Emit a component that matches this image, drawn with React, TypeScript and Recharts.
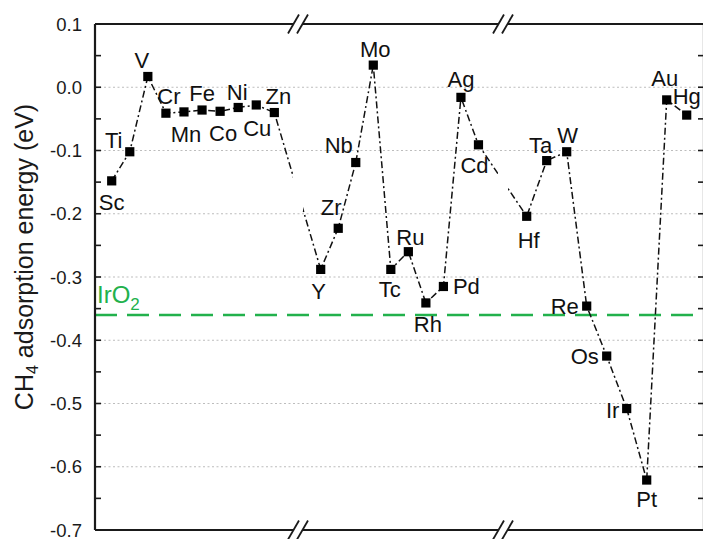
import React from 'react';
import { LineChart, Line, XAxis, YAxis, ReferenceLine, ReferenceArea, LabelList } from 'recharts';

// ---------------- data ----------------
const period4Elements = ['Sc', 'Ti', 'V', 'Cr', 'Mn', 'Fe', 'Co', 'Ni', 'Cu', 'Zn'];
const period4Energies = [-0.148, -0.102, 0.017, -0.041, -0.039, -0.036, -0.038, -0.032, -0.028, -0.040];

const period5Elements = ['Y', 'Zr', 'Nb', 'Mo', 'Tc', 'Ru', 'Rh', 'Pd', 'Ag', 'Cd'];
const period5Energies = [-0.288, -0.223, -0.119, 0.035, -0.288, -0.260, -0.341, -0.315, -0.016, -0.091];

const period6Elements = ['Hf', 'Ta', 'W', 'Re', 'Os', 'Ir', 'Pt', 'Au', 'Hg'];
const period6Energies = [-0.204, -0.116, -0.102, -0.346, -0.425, -0.508, -0.621, -0.020, -0.044];

const iro2Energy = -0.36;
const iro2Text = 'IrO';
const iro2Sub = '2';

const yTickValues = [0.1, 0.05, 0, -0.05, -0.1, -0.15, -0.2, -0.25, -0.3, -0.35, -0.4, -0.45, -0.5, -0.55, -0.6, -0.65, -0.7];
const gridValues = [0, -0.1, -0.2, -0.3, -0.4, -0.5, -0.6];
const yDomain: [number, number] = [-0.7, 0.1];

// ---------------- layout ----------------
const FONT = "'Liberation Sans', Arial, Helvetica, sans-serif";
const CHART_W = 705;
const CHART_H = 539;
const X_MAX = 609; // plot width in axis units
const SEGMENTS = [
  { start: 16.7, step: 18.07 },
  { start: 225.7, step: 17.53 },
  { start: 431.7, step: 20 },
];
const BREAKS = [203, 408];
const PX_Y = 0.8 / 506; // y units per pixel

// label offsets (dx, dy) of label centre from marker centre, in px
const LABEL_OFFSETS: Record<string, [number, number]> = {
  Sc: [0, 21], Ti: [-16, -12], V: [-6, -16], Cr: [3, -17], Mn: [2, 22], Fe: [0, -17],
  Co: [3, 22], Ni: [-1, -15], Cu: [1, 23], Zn: [4, -16],
  Y: [-2, 22], Zr: [-7, -21], Nb: [-17, -17], Mo: [2, -16], Tc: [-1, 20], Ru: [2, -15],
  Rh: [2, 21], Pd: [23, 0], Ag: [0, -18], Cd: [-4, 20],
  Hf: [2, 24], Ta: [-6, -16], W: [1, -17], Re: [-22, 0], Os: [-22, 0], Ir: [-14, 2],
  Pt: [0, 19], Au: [-2, -22], Hg: [0, -19],
};

const groups = [
  { names: period4Elements, values: period4Energies },
  { names: period5Elements, values: period5Energies },
  { names: period6Elements, values: period6Energies },
];

const rows = groups.flatMap((g, gi) =>
  g.names.map((name, i) => ({
    name,
    x: SEGMENTS[gi].start + i * SEGMENTS[gi].step,
    energy: g.values[i],
  }))
);

const isMajor = (v: number) => Math.abs(Math.round(v * 10) - v * 10) < 1e-6;

const LeftTick = (props: any) => {
  const { x, y, payload } = props;
  const v = payload.value as number;
  return (
    <g>
      <line x1={x} x2={x + 6} y1={y} y2={y} stroke="#1a1a1a" strokeWidth={1.6} />
      {isMajor(v) && (
        <text x={x - 13} y={y} dy="0.36em" textAnchor="end" fontSize={18.5} fontFamily={FONT} fill="#1a1a1a">
          {v.toFixed(1)}
        </text>
      )}
    </g>
  );
};

const RightTick = (props: any) => {
  const { x, y } = props;
  return <line x1={x - 6} x2={x} y1={y} y2={y} stroke="#1a1a1a" strokeWidth={1.6} />;
};

const YTitle = () => (
  <text
    x={33}
    y={257}
    transform="rotate(-90 33 257)"
    textAnchor="middle"
    fontSize={25}
    fontFamily={FONT}
    fill="#1a1a1a"
  >
    <tspan>CH</tspan>
    <tspan fontSize={16} dy={5}>4</tspan>
    <tspan dy={-5}> adsorption energy (eV)</tspan>
  </text>
);

const IrO2Label = (props: any) => {
  const vb = props.viewBox || { x: 95, y: 314 };
  const x = vb.x + 2;
  const y = vb.y - 11.5;
  return (
    <text x={x} y={y} fontSize={24} fontFamily={FONT} fill="#22b14c">
      <tspan>{iro2Text}</tspan>
      <tspan fontSize={17} dy={7}>{iro2Sub}</tspan>
    </text>
  );
};

const renderDot = (props: any) => {
  const { cx, cy, index } = props;
  if (cx == null || cy == null) return <g key={`d${index}`} />;
  return <rect key={`d${index}`} x={cx - 4.6} y={cy - 4.6} width={9.2} height={9.2} fill="#000" />;
};

const renderLabel = (props: any) => {
  const x = props.x ?? props.viewBox?.x;
  const y = props.y ?? props.viewBox?.y;
  const name = String(props.value);
  const off = LABEL_OFFSETS[name] || [0, -16];
  return (
    <text
      key={`l${props.index}`}
      x={x + off[0]}
      y={y + off[1]}
      dy="0.36em"
      textAnchor="middle"
      fontSize={22}
      fontFamily={FONT}
      fill="#111"
    >
      {name}
    </text>
  );
};

export default function App() {
  const top = yDomain[1];
  const bottom = yDomain[0];
  const slashDx = 5.5;
  const slashDy = 9.5 * PX_Y;
  const breakDecor: React.ReactNode[] = [];
  BREAKS.forEach((b, bi) => {
    [top, bottom].forEach((yv, yi) => {
      breakDecor.push(
        <ReferenceLine
          key={`cov${bi}${yi}`}
          segment={[{ x: b - 4.5, y: yv }, { x: b + 4.5, y: yv }]}
          stroke="#ffffff"
          strokeWidth={5}
          ifOverflow="visible"
          zIndex={1600}
        />
      );
      [-4.5, 4.5].forEach((o, oi) => {
        breakDecor.push(
          <ReferenceLine
            key={`sl${bi}${yi}${oi}`}
            segment={[{ x: b + o - slashDx, y: yv - slashDy }, { x: b + o + slashDx, y: yv + slashDy }]}
            stroke="#1a1a1a"
            strokeWidth={1.8}
            ifOverflow="visible"
            zIndex={1700}
          />
        );
      });
    });
  });

  return (
    <div style={{ position: 'absolute', left: 0, top: 0, width: CHART_W, height: CHART_H, background: '#fff' }}>
      <LineChart
        width={CHART_W}
        height={CHART_H}
        data={rows}
        margin={{ top: 23, right: 0, bottom: 8, left: 0 }}
      >
        <XAxis
          dataKey="x"
          type="number"
          domain={[0, X_MAX]}
          allowDataOverflow
          tick={false}
          tickLine={false}
          height={1}
          axisLine={{ stroke: '#1a1a1a', strokeWidth: 2.2 }}
        />
        <XAxis
          xAxisId="top"
          orientation="top"
          dataKey="x"
          type="number"
          domain={[0, X_MAX]}
          allowDataOverflow
          tick={false}
          tickLine={false}
          height={1}
          axisLine={{ stroke: '#1a1a1a', strokeWidth: 2.2 }}
        />
        <YAxis
          type="number"
          domain={yDomain}
          ticks={yTickValues}
          interval={0}
          allowDataOverflow
          width={95}
          tickSize={0}
          tickMargin={0}
          tickLine={false}
          tick={LeftTick}
          axisLine={{ stroke: '#1a1a1a', strokeWidth: 2.2 }}
          label={<YTitle />}
        />
        <YAxis
          yAxisId="right"
          orientation="right"
          type="number"
          domain={yDomain}
          ticks={yTickValues}
          interval={0}
          allowDataOverflow
          width={1}
          tickSize={0}
          tickMargin={0}
          tickLine={false}
          tick={RightTick}
          axisLine={{ stroke: '#1a1a1a', strokeWidth: 2.2 }}
        />
        {gridValues.map((g) => (
          <ReferenceLine key={`g${g}`} y={g} stroke="#bdbdbd" strokeWidth={1} strokeDasharray="2 2.5" zIndex={-50} />
        ))}
        <ReferenceLine
          y={iro2Energy}
          stroke="#22b14c"
          strokeWidth={2.6}
          strokeDasharray="22 10"
          label={<IrO2Label />}
          zIndex={-40}
        />
        <Line
          type="linear"
          dataKey="energy"
          stroke="#111"
          strokeWidth={1.5}
          strokeDasharray="7 3 2 3"
          dot={renderDot}
          activeDot={false}
          isAnimationActive={false}
        >
          <LabelList dataKey="name" content={renderLabel} />
        </Line>
        <ReferenceArea
          x1={BREAKS[0] - 5}
          x2={BREAKS[0] + 5}
          y1={-0.196}
          y2={-0.131}
          fill="#ffffff"
          fillOpacity={1}
          stroke="none"
          zIndex={1500}
        />
        <ReferenceArea
          x1={BREAKS[1] - 5}
          x2={BREAKS[1] + 5}
          y1={-0.167}
          y2={-0.127}
          fill="#ffffff"
          fillOpacity={1}
          stroke="none"
          zIndex={1500}
        />
        {breakDecor}
      </LineChart>
    </div>
  );
}
